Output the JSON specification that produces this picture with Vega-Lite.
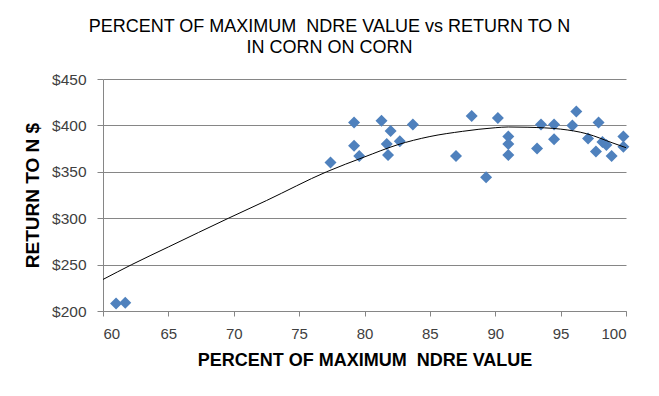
{
  "$schema": "https://vega.github.io/schema/vega-lite/v6.json",
  "width": 523,
  "height": 232,
  "autosize": {"type": "none"},
  "padding": {"left": 103, "top": 79, "right": 33, "bottom": 85},
  "background": "white",
  "config": {"view": {"stroke": null}, "font": "Liberation Sans"},
  "title": {
    "text": ["PERCENT OF MAXIMUM\u00a0 NDRE VALUE vs RETURN TO N", "IN CORN ON CORN"],
    "font": "Liberation Sans",
    "fontSize": 18,
    "fontWeight": "normal",
    "color": "black",
    "anchor": "middle",
    "dx": -35,
    "offset": 15,
    "lineHeight": 21
  },
  "datasets": {
    "points": [
      {"ndre": 61.0, "ret": 208}, {"ndre": 61.7, "ret": 209}, {"ndre": 77.4, "ret": 360},
      {"ndre": 79.2, "ret": 403}, {"ndre": 79.2, "ret": 378}, {"ndre": 79.6, "ret": 367},
      {"ndre": 81.3, "ret": 405}, {"ndre": 82.0, "ret": 394}, {"ndre": 81.7, "ret": 380},
      {"ndre": 81.8, "ret": 368}, {"ndre": 82.7, "ret": 383}, {"ndre": 83.7, "ret": 401},
      {"ndre": 87.0, "ret": 367}, {"ndre": 88.2, "ret": 410}, {"ndre": 89.3, "ret": 344},
      {"ndre": 90.2, "ret": 408}, {"ndre": 91.0, "ret": 388}, {"ndre": 91.0, "ret": 380},
      {"ndre": 91.0, "ret": 368}, {"ndre": 93.2, "ret": 375}, {"ndre": 93.5, "ret": 401},
      {"ndre": 94.5, "ret": 401}, {"ndre": 94.5, "ret": 385}, {"ndre": 95.9, "ret": 400},
      {"ndre": 96.2, "ret": 415}, {"ndre": 97.1, "ret": 386}, {"ndre": 97.9, "ret": 403},
      {"ndre": 97.7, "ret": 372}, {"ndre": 98.2, "ret": 382}, {"ndre": 98.5, "ret": 379},
      {"ndre": 98.9, "ret": 367}, {"ndre": 99.8, "ret": 388}, {"ndre": 99.8, "ret": 377}
    ],
    "trend": [
      {"ndre": 60, "ret": 234}, {"ndre": 62.2, "ret": 250}, {"ndre": 65, "ret": 269},
      {"ndre": 69.6, "ret": 300}, {"ndre": 72.5, "ret": 319}, {"ndre": 77.1, "ret": 350},
      {"ndre": 80, "ret": 366}, {"ndre": 82.5, "ret": 379}, {"ndre": 85, "ret": 388},
      {"ndre": 87.5, "ret": 393.6}, {"ndre": 90, "ret": 397.5}, {"ndre": 91, "ret": 398.3},
      {"ndre": 92.5, "ret": 398}, {"ndre": 95, "ret": 396}, {"ndre": 97, "ret": 391},
      {"ndre": 99, "ret": 381}, {"ndre": 100, "ret": 376}
    ]
  },
  "layer": [
    {
      "data": {"name": "points"},
      "mark": {"type": "point", "shape": "diamond", "filled": true, "color": "#4F81BD", "opacity": 1, "size": 144},
      "encoding": {
        "x": {
          "field": "ndre", "type": "quantitative",
          "scale": {"domain": [60, 100], "nice": false, "zero": false},
          "axis": {
            "title": "PERCENT OF MAXIMUM\u00a0 NDRE VALUE",
            "values": [60, 65, 70, 75, 80, 85, 90, 95, 100],
            "grid": false,
            "domainColor": "#868686", "tickColor": "#868686", "tickSize": 5,
            "labelFont": "Liberation Sans", "labelFontSize": 15, "labelColor": "#404040", "labelPadding": 10,
            "titleFont": "Liberation Sans", "titleFontSize": 18, "titleFontWeight": "bold", "titleColor": "black", "titlePadding": 10
          }
        },
        "y": {
          "field": "ret", "type": "quantitative",
          "scale": {"domain": [200, 450], "nice": false, "zero": false},
          "axis": {
            "title": "RETURN TO N $",
            "values": [200, 250, 300, 350, 400, 450],
            "format": "$.0f",
            "grid": true, "gridColor": "#868686", "gridWidth": 1,
            "domainColor": "#868686", "tickColor": "#868686", "tickSize": 6,
            "labelFont": "Liberation Sans", "labelFontSize": 15.5, "labelColor": "#404040", "labelPadding": 11,
            "titleFont": "Liberation Sans", "titleFontSize": 19, "titleFontWeight": "bold", "titleColor": "black", "titlePadding": 9
          }
        }
      }
    },
    {
      "data": {"name": "trend"},
      "mark": {"type": "line", "color": "black", "strokeWidth": 1, "interpolate": "monotone"},
      "encoding": {
        "x": {"field": "ndre", "type": "quantitative"},
        "y": {"field": "ret", "type": "quantitative"}
      }
    }
  ]
}
